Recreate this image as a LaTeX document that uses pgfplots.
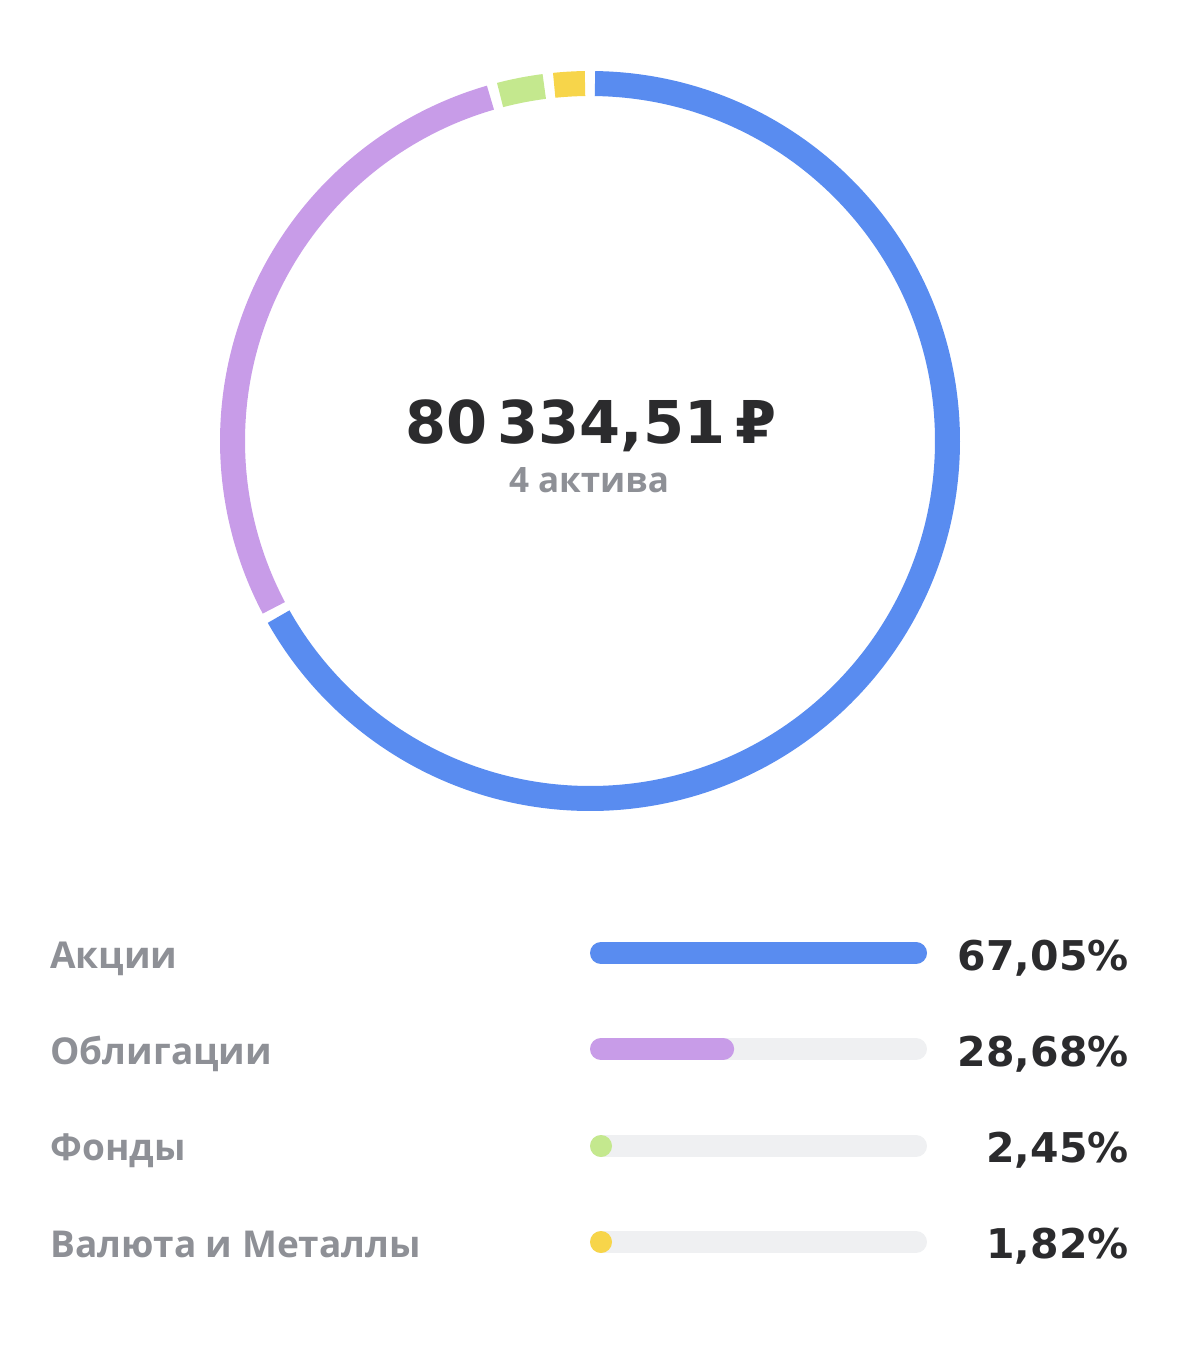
\documentclass[border=0pt]{standalone}
\usepackage{pgfplots}
\usepackage{pgfplotstable}
\pgfplotsset{compat=1.18}
\usepackage{fontspec}
\setmainfont{Open Sans}
\newfontfamily\numfont{DejaVu Sans}
\definecolor{cblue}{RGB}{89,140,240}
\definecolor{cpurple}{RGB}{200,156,232}
\definecolor{cgreen}{RGB}{196,232,142}
\definecolor{cyellow}{RGB}{247,213,74}
\definecolor{ctrack}{RGB}{239,240,242}
\definecolor{cdark}{RGB}{43,43,45}
\definecolor{cgrey}{RGB}{142,144,150}

\pgfplotstableread{
share
67.05
28.68
2.45
1.82
}\shares
\pgfplotstablegetelem{0}{share}\of\shares \let\sA\pgfplotsretval
\pgfplotstablegetelem{1}{share}\of\shares \let\sB\pgfplotsretval
\pgfplotstablegetelem{2}{share}\of\shares \let\sC\pgfplotsretval
\pgfplotstablegetelem{3}{share}\of\shares \let\sD\pgfplotsretval

% cumulative angles (clockwise from 12 o'clock)
\pgfmathsetmacro{\aA}{90}
\pgfmathsetmacro{\aB}{\aA-3.6*\sA}
\pgfmathsetmacro{\aC}{\aB-3.6*\sB}
\pgfmathsetmacro{\aD}{\aC-3.6*\sC}
\pgfmathsetmacro{\aE}{\aD-3.6*\sD}
\def\gap{0.8}
\def\cx{590}\def\cy{441}\def\rr{357.5}
\newcommand{\seg}[3]{%
  \pgfmathsetmacro{\st}{#2-\gap}\pgfmathsetmacro{\en}{#3+\gap}%
  \pgfmathsetmacro{\px}{\cx+\rr*cos(\st)}\pgfmathsetmacro{\py}{\cy-\rr*sin(\st)}%
  \edef\tmp{\noexpand\draw[#1, line width=12.5pt, line cap=butt] (axis cs:\px,\py) arc[start angle=\st, end angle=\en, radius=178.75pt];}\tmp}

\begin{document}
\begin{tikzpicture}
\begin{axis}[
  x=0.5pt, y=0.5pt, scale only axis,
  xmin=0, xmax=1179, ymin=0, ymax=1348, y dir=reverse,
  hide axis, clip=false,
]
\path (axis cs:0,0) rectangle (axis cs:1179,1348);
% donut
\seg{cblue}{\aA}{\aB}
\seg{cpurple}{\aB}{\aC}
\seg{cgreen}{\aC}{\aD}
\seg{cyellow}{\aD}{\aE}
% center text
\node[anchor=base, inner sep=0pt, font=\numfont\fontsize{29.5}{29.5}\selectfont\bfseries, text=cdark] at (axis cs:591,443) {80\,334,51\,₽};
\node[anchor=base, inner sep=0pt, font=\fontsize{17.5}{17.5}\selectfont\bfseries, text=cgrey] at (axis cs:589,492) {4 актива};
% tracks
\addplot[ctrack, line width=11pt, line cap=round] coordinates {(601,953) (916,953)};
\addplot[ctrack, line width=11pt, line cap=round] coordinates {(601,1049) (916,1049)};
\addplot[ctrack, line width=11pt, line cap=round] coordinates {(601,1146) (916,1146)};
\addplot[ctrack, line width=11pt, line cap=round] coordinates {(601,1242) (916,1242)};
% value bars
\pgfplotsset{barfilt/.style={x filter/.expression={601+max(x/\sA*337-22,0)}}}
\addplot[cblue, line width=11pt, line cap=round, barfilt] coordinates {(0,953) (\sA,953)};
\addplot[cpurple, line width=11pt, line cap=round, barfilt] coordinates {(0,1049) (\sB,1049)};
\addplot[cgreen, line width=11pt, line cap=round, barfilt] coordinates {(0,1146) (\sC,1146)};
\addplot[cyellow, line width=11pt, line cap=round, barfilt] coordinates {(0,1242) (\sD,1242)};
% labels
\begin{scope}[every node/.style={anchor=base west, inner sep=0pt, font=\fontsize{18.5}{18.5}\selectfont\bfseries, text=cgrey}]
\node at (axis cs:50,968) {Акции};
\node at (axis cs:50,1064) {Облигации};
\node at (axis cs:50,1160) {Фонды};
\node at (axis cs:50,1257) {Валюта и Металлы};
\end{scope}
\begin{scope}[every node/.style={anchor=base east, inner sep=0pt, font=\numfont\fontsize{20.5}{20.5}\selectfont\bfseries, text=cdark}]
\node at (axis cs:1129,970) {67,05\%};
\node at (axis cs:1129,1066) {28,68\%};
\node at (axis cs:1129,1162) {2,45\%};
\node at (axis cs:1129,1258) {1,82\%};
\end{scope}
\end{axis}
\end{tikzpicture}
\end{document}
